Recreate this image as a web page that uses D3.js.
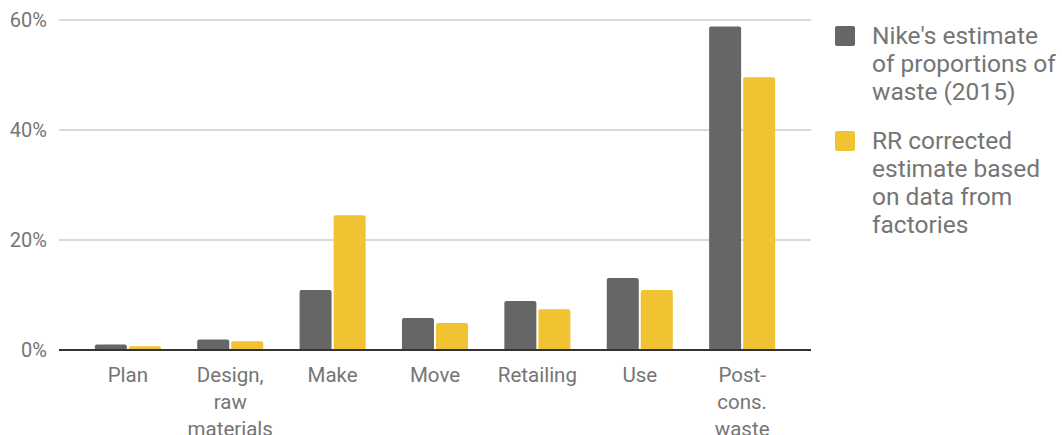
<!DOCTYPE html>
<html>
<head><meta charset="utf-8"/>
<style>
body { margin: 0; background: #fff; }
svg { display: block; font-family: Roboto, "Noto Sans", sans-serif; }
.tick-label, .cat-label, .legend-text { fill: #757575; }
</style>
<script src="https://d3js.org/d3.v7.min.js"></script>
</head>
<body>
<div id="chart"></div>
<script>
// data
var categories = [["Plan"], ["Design,", "raw", "materials"], ["Make"], ["Move"], ["Retailing"], ["Use"], ["Post-", "cons.", "waste"]];
var nikeValues = [1.0, 1.9, 10.9, 5.8, 8.9, 13.1, 58.8];
var rrValues = [0.7, 1.6, 24.5, 4.9, 7.4, 10.9, 49.6];
var seriesNames = [["Nike's estimate", "of proportions of", "waste (2015)"],
                   ["RR corrected", "estimate based", "on data from", "factories"]];
var seriesColors = ["#666666", "#f1c232"];
var yTicks = [0, 20, 40, 60];

var width = 1062, height = 435;
var plotLeft = 59, plotRight = 811, plotTop = 20, plotBottom = 350;

var svg = d3.select("#chart").append("svg")
    .attr("width", width)
    .attr("height", height);

var y = d3.scaleLinear().domain([0, 60]).range([plotBottom, plotTop]);

var x = d3.scaleBand()
    .domain(d3.range(categories.length))
    .range([plotLeft, plotRight])
    .paddingInner(0.355)
    .paddingOuter(0.35);

var xs = d3.scaleBand()
    .domain([0, 1])
    .range([0, x.bandwidth()])
    .paddingInner(0.06);

// gridlines
svg.selectAll(".grid")
    .data(yTicks.filter(function(d) { return d > 0; }))
    .enter().append("line")
    .attr("class", "grid")
    .attr("x1", plotLeft).attr("x2", plotRight)
    .attr("y1", function(d) { return y(d); })
    .attr("y2", function(d) { return y(d); })
    .attr("stroke", "#cccccc")
    .attr("stroke-width", 1.5);

svg.selectAll(".tick-label")
    .data(yTicks)
    .enter().append("text")
    .attr("class", "tick-label")
    .attr("x", 47)
    .attr("y", function(d) { return y(d); })
    .attr("dy", "0.36em")
    .attr("text-anchor", "end")
    .style("font-size", "20px")
    .text(function(d) { return d + "%"; });

// bars
var rows = categories.map(function(c, i) { return [nikeValues[i], rrValues[i]]; });

var groups = svg.selectAll(".group")
    .data(rows)
    .enter().append("g")
    .attr("class", "group")
    .attr("transform", function(d, i) { return "translate(" + x(i) + ",0)"; });

groups.selectAll("path")
    .data(function(d) { return d.map(function(v, s) { return {v: v, s: s}; }); })
    .enter().append("path")
    .attr("fill", function(d) { return seriesColors[d.s]; })
    .attr("d", function(d) {
        var x0 = xs(d.s), w = xs.bandwidth(), y0 = y(d.v), h = plotBottom - y0;
        var r = Math.min(2, h / 2);
        return "M" + x0 + "," + plotBottom +
            "V" + (y0 + r) +
            "Q" + x0 + "," + y0 + " " + (x0 + r) + "," + y0 +
            "H" + (x0 + w - r) +
            "Q" + (x0 + w) + "," + y0 + " " + (x0 + w) + "," + (y0 + r) +
            "V" + plotBottom + "Z";
    });

// baseline
svg.append("line")
    .attr("x1", plotLeft).attr("x2", plotRight)
    .attr("y1", y(0)).attr("y2", y(0))
    .attr("stroke", "#333333")
    .attr("stroke-width", 2);

// category labels
svg.selectAll(".cat-label")
    .data(categories)
    .enter().append("text")
    .attr("class", "cat-label")
    .attr("text-anchor", "middle")
    .style("font-size", "20.5px")
    .attr("transform", function(d, i) { return "translate(" + (x(i) + x.bandwidth() / 2) + ",382)"; })
    .selectAll("tspan")
    .data(function(d) { return d; })
    .enter().append("tspan")
    .attr("x", 0)
    .attr("y", function(d, j) { return j * 27; })
    .text(function(d) { return d; });

// legend
var legendTop = [26, 131];
var legend = svg.selectAll(".legend")
    .data(seriesNames)
    .enter().append("g")
    .attr("class", "legend")
    .attr("transform", function(d, i) { return "translate(835," + legendTop[i] + ")"; });

legend.append("rect")
    .attr("width", 20).attr("height", 20)
    .attr("rx", 2)
    .attr("fill", function(d, i) { return seriesColors[i]; });

legend.append("text")
    .attr("class", "legend-text")
    .style("font-size", "24.5px")
    .selectAll("tspan")
    .data(function(d) { return d; })
    .enter().append("tspan")
    .attr("x", 37)
    .attr("y", function(d, j) { return 17.5 + j * 28; })
    .text(function(d) { return d; });
</script>
</body>
</html>
